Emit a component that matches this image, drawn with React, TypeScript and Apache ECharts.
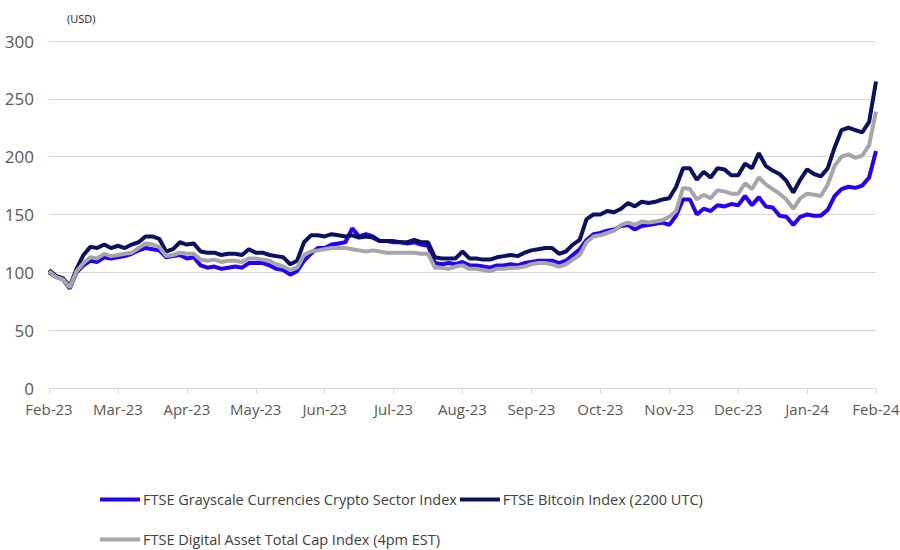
import React, { useEffect, useRef } from "react";
import * as echarts from "echarts";

const monthLabels = [
  "Feb-23", "Mar-23", "Apr-23", "May-23", "Jun-23", "Jul-23", "Aug-23",
  "Sep-23", "Oct-23", "Nov-23", "Dec-23", "Jan-24", "Feb-24",
];

// sample positions in months after Feb-23 (step of 0.1 month)
const steps = 120;

const sectorIndex = [
  100, 96, 94, 86, 100, 106, 110, 109, 113, 112,
  113, 114, 116, 119, 121, 120, 119, 113, 114, 115,
  112, 113, 106, 104, 105, 103, 104, 105, 104, 108,
  108, 108, 106, 103, 102, 98, 101, 110, 116, 121,
  121, 124, 125, 126, 138, 131, 133, 131, 127, 127,
  126, 126, 125, 126, 124, 123, 108, 107, 108, 107,
  109, 106, 106, 105, 104, 106, 106, 107, 106, 108,
  109, 110, 110, 110, 108, 110, 115, 120, 128, 133,
  134, 136, 137, 140, 141, 137, 140, 141, 142, 143,
  141, 149, 163, 163, 150, 155, 153, 158, 157, 159,
  158, 166, 158, 165, 157, 156, 149, 148, 141, 148,
  150, 149, 149, 154, 166, 172, 174, 173, 175, 182,
  205,
];

const bitcoinIndex = [
  102, 97, 95, 88, 103, 115, 122, 121, 124, 121,
  123, 121, 124, 126, 131, 131, 129, 118, 120, 126,
  124, 125, 118, 117, 117, 115, 116, 116, 115, 120,
  117, 117, 115, 114, 113, 107, 110, 126, 132, 132,
  131, 133, 132, 131, 132, 130, 131, 130, 127, 127,
  127, 126, 126, 128, 126, 126, 113, 112, 112, 112,
  118, 112, 112, 111, 111, 113, 114, 115, 114, 117,
  119, 120, 121, 121, 116, 118, 124, 128, 146, 150,
  150, 153, 152, 155, 160, 157, 161, 160, 161, 163,
  164, 174, 190, 190, 180, 187, 182, 190, 189, 184,
  184, 194, 190, 203, 192, 188, 185, 179, 169, 180,
  189, 185, 183, 190, 208, 223, 225, 223, 221, 230,
  265,
];

const totalCapIndex = [
  101, 96, 94, 87, 101, 108, 113, 112, 116, 114,
  115, 116, 117, 121, 125, 124, 122, 114, 115, 117,
  116, 116, 111, 110, 111, 109, 110, 110, 109, 112,
  112, 111, 110, 107, 105, 102, 104, 115, 118, 119,
  120, 121, 121, 121, 120, 119, 118, 119, 118, 117,
  117, 117, 117, 117, 116, 116, 104, 104, 103, 105,
  106, 103, 103, 102, 101, 103, 103, 104, 104, 105,
  107, 108, 108, 107, 105, 107, 111, 115, 126, 131,
  132, 134, 136, 141, 143, 141, 144, 143, 144, 145,
  148, 153, 173, 172, 163, 167, 164, 171, 170, 168,
  168, 177, 172, 182, 176, 172, 168, 163, 155, 164,
  168, 167, 166, 176, 192, 200, 202, 199, 201, 210,
  239,
];

const seriesNames = [
  "FTSE Grayscale Currencies Crypto Sector Index",
  "FTSE Bitcoin Index (2200 UTC)",
  "FTSE Digital Asset Total Cap Index (4pm EST)",
];

const toPoints = (vals: number[]) =>
  vals.map((v, i) => [(i * 12) / steps, v]);

export default function App() {
  const ref = useRef<HTMLDivElement>(null);

  useEffect(() => {
    if (!ref.current) return;
    const chart = echarts.init(ref.current, undefined, { renderer: "svg" });
    const font = "'Open Sans', 'Noto Sans', sans-serif";
    const legendBase = {
      left: 100,
      padding: 0,
      icon: "rect",
      itemWidth: 40,
      itemHeight: 4,
      itemGap: 3,
      textStyle: {
        fontFamily: font,
        fontSize: 14.5,
        color: "#404040",
        padding: [0, 0, 0, -2],
      },
    };
    chart.setOption({
      animation: false,
      backgroundColor: "#ffffff",
      grid: {
        left: 49,
        right: 24,
        top: 41,
        bottom: 162,
        containLabel: false,
        outerBoundsMode: "none",
      },
      graphic: [
        {
          type: "text",
          left: 67,
          top: 13,
          style: {
            text: "(USD)",
            font: `11px ${font}`,
            fill: "#262626",
          },
        },
      ],
      legend: [
        { ...legendBase, data: [seriesNames[0], seriesNames[1]], top: 492 },
        { ...legendBase, data: [seriesNames[2]], top: 532 },
      ],
      xAxis: {
        type: "value",
        min: 0,
        max: 12,
        interval: 1,
        axisLine: { show: true, lineStyle: { color: "#d9d9d9", width: 1 } },
        axisTick: { show: true, length: 6, lineStyle: { color: "#d9d9d9" } },
        splitLine: { show: false },
        axisLabel: {
          margin: 13,
          fontFamily: font,
          fontSize: 15,
          color: "#595959",
          formatter: (v: number) => monthLabels[Math.round(v)] ?? "",
        },
      },
      yAxis: {
        type: "value",
        min: 0,
        max: 300,
        interval: 50,
        axisLine: { show: false },
        axisTick: { show: false },
        splitLine: { lineStyle: { color: "#d9d9d9", width: 1 } },
        axisLabel: {
          margin: 15,
          fontFamily: font,
          fontSize: 17,
          color: "#595959",
        },
      },
      series: [
        {
          name: seriesNames[0],
          type: "line",
          data: toPoints(sectorIndex),
          showSymbol: false,
          symbol: "none",
          lineStyle: { width: 4, color: "#2200ff" },
          itemStyle: { color: "#2200ff" },
        },
        {
          name: seriesNames[1],
          type: "line",
          data: toPoints(bitcoinIndex),
          showSymbol: false,
          symbol: "none",
          lineStyle: { width: 4, color: "#0b1160" },
          itemStyle: { color: "#0b1160" },
        },
        {
          name: seriesNames[2],
          type: "line",
          data: toPoints(totalCapIndex),
          showSymbol: false,
          symbol: "none",
          lineStyle: { width: 4, color: "#a6a6a6" },
          itemStyle: { color: "#a6a6a6" },
        },
      ],
    });
    return () => chart.dispose();
  }, []);

  return (
    <div
      ref={ref}
      style={{ position: "absolute", left: 0, top: 0, width: 900, height: 550 }}
    />
  );
}
